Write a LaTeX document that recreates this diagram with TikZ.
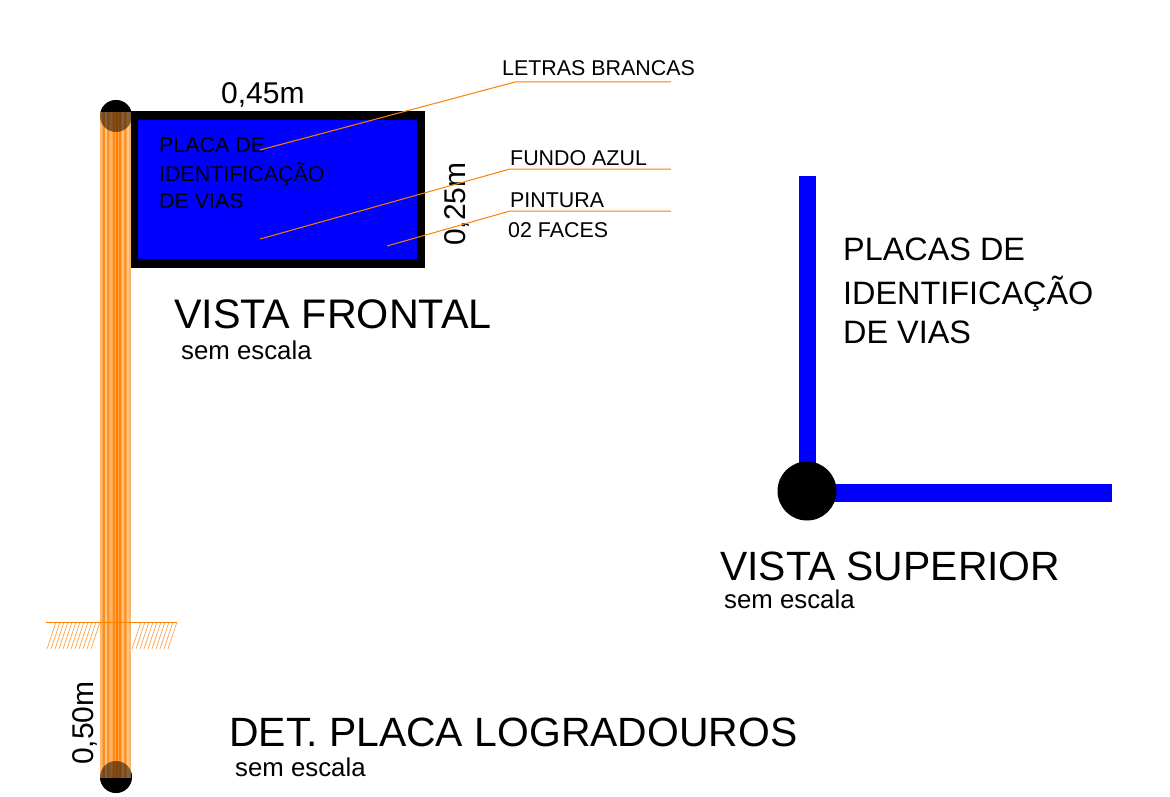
\documentclass[tikz,border=0pt]{standalone}
\usepackage{fontspec}
\setmainfont{Liberation Sans}
\usepackage{tikz}
\definecolor{postorange}{RGB}{255,128,0}
\tikzset{
    title/.style={anchor=base west, inner sep=0pt, font=\fontsize{#1}{#1}\selectfont},
    scalenote/.style={anchor=base west, inner sep=0pt, font=\fontsize{25.8}{25.8}\selectfont},
    dimen/.style={anchor=base west, inner sep=0pt, font=\fontsize{30}{30}\selectfont},
    callout/.style={anchor=base west, inner sep=0pt, font=\fontsize{21.4}{21.4}\selectfont},
    platetext/.style={anchor=base west, inner sep=0pt, font=\fontsize{21.4}{21.4}\selectfont},
    viewtext/.style={anchor=base west, inner sep=0pt, font=\fontsize{32.4}{32.4}\selectfont},
    leader/.style={draw=postorange, line width=1pt},
    knob/.style={circle, fill=black, inner sep=0pt},
}
\begin{document}
\begin{tikzpicture}[x=1pt, y=-1pt]
        \useasboundingbox (0,0) rectangle (1170,797);
        % plate
        \fill[black] (130,111) rectangle (425,268);
        \fill[blue] (138,120) rectangle (417,259);
        % post
        \node [knob, minimum size=32pt] (topknob) at (116,116) {};
        \node [knob, minimum size=32pt] (footknob) at (116,777) {};
        \fill[postorange!70!white] (100,112) rectangle (131,778);
        \foreach \x/\c in {101/55, 104/90, 106/45, 108/85, 111/60, 114/90, 117/100, 120/95, 123/50, 125/85, 128/45, 130/60} {
            \draw[postorange!\c!white, line width=1.2pt] (\x,112) -- (\x,778);
        }
        % knobs show through the post
        \fill[black, opacity=0.5] (116,116) circle[radius=16];
        \fill[black, opacity=0.5] (116,777) circle[radius=16];
        % ground
        \draw[postorange, line width=1pt] (46,622) -- (177,622);
        \foreach \x in {47,51,...,91,132,136,...,168} {
            \draw[postorange!70, line width=0.7pt] (\x,649) -- (\x+9,622);
        }
        % plate labels
        \node [platetext] (plate1) at (159,153) {PLACA DE};
        \node [platetext] (plate2) at (159,181.5) {IDENTIFICAÇÃO};
        \node [platetext] (plate3) at (159,208) {DE VIAS};
        \node [dimen] (width) at (221,104) {0,45m};
        \node [dimen, rotate=90] (height) at (465,246) {0,25m};
        \node [dimen, rotate=90] (depth) at (93,765) {0,50m};
        % callouts
        \node [callout] (letras) at (502,76) {LETRAS BRANCAS};
        \node [callout] (fundo) at (510,165) {FUNDO AZUL};
        \node [callout] (pintura) at (510,207) {PINTURA};
        \node [callout] (faces) at (508,237) {02 FACES};
        \coordinate (letrasA) at (260,150);
        \coordinate (letrasB) at (515,82);
        \coordinate (letrasC) at (671,82);
        \coordinate (fundoA) at (260,239);
        \coordinate (fundoB) at (510,169);
        \coordinate (fundoC) at (671,169);
        \coordinate (pinturaA) at (387,246);
        \coordinate (pinturaB) at (510,211);
        \coordinate (pinturaC) at (671,211);
        \draw[leader] (letrasA) -- (letrasB) -- (letrasC);
        \draw[leader] (fundoA) -- (fundoB) -- (fundoC);
        \draw[leader] (pinturaA) -- (pinturaB) -- (pinturaC);
        % titles
        \node [title=41.3] (frontal) at (174,328) {VISTA FRONTAL};
        \node [scalenote] (frontalnote) at (181,359) {sem escala};
        \node [title=40.9] (superior) at (720,580) {VISTA SUPERIOR};
        \node [scalenote] (superiornote) at (724,608) {sem escala};
        \node [title=40.9] (detail) at (229,746) {DET. PLACA LOGRADOUROS};
        \node [scalenote] (detailnote) at (235,776) {sem escala};
        % top view
        \fill[blue] (799,176) rectangle (816,490);
        \fill[blue] (825,484) rectangle (1112,502);
        \node [knob, minimum size=59pt] (topview) at (807,491) {};
        \node [viewtext] (view1) at (843,260) {PLACAS DE};
        \node [viewtext] (view2) at (843,304) {IDENTIFICAÇÃO};
        \node [viewtext] (view3) at (843,343) {DE VIAS};
    \end{tikzpicture}
\end{document}
